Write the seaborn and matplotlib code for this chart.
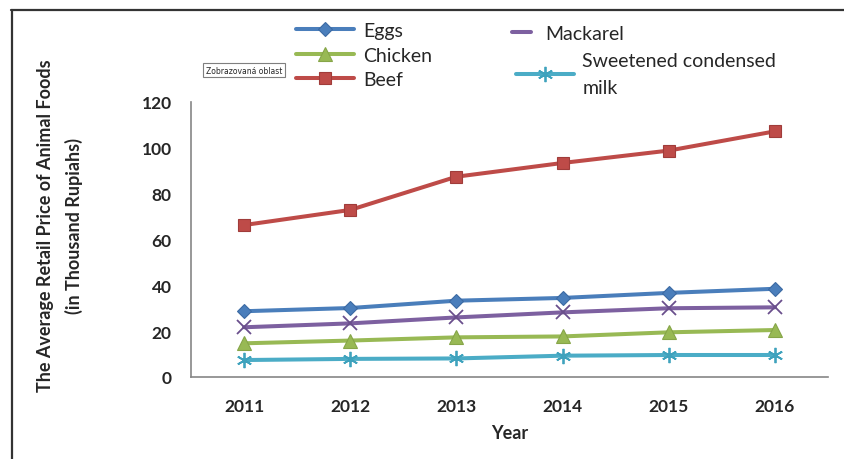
import matplotlib
matplotlib.use("Agg")
import matplotlib.pyplot as plt
from matplotlib.lines import Line2D
import seaborn as sns
import pandas as pd

# data (thousand rupiahs)
years = ["2011", "2012", "2013", "2014", "2015", "2016"]
eggs = [28.7, 30.1, 33.3, 34.5, 36.7, 38.5]
chicken = [14.7, 15.9, 17.3, 17.7, 19.5, 20.5]
beef = [66.3, 72.9, 87.4, 93.4, 98.8, 107.2]
mackarel = [21.7, 23.4, 26.0, 28.2, 30.0, 30.4]
milk = [7.4, 7.9, 8.1, 9.3, 9.6, 9.6]
yticks = [0, 20, 40, 60, 80, 100, 120]

series = {
    "Eggs": eggs,
    "Chicken": chicken,
    "Beef": beef,
    "Mackarel": mackarel,
    "Sweetened condensed milk": milk,
}

# colour, marker, size, edge colour, edge width
styles = {
    "Eggs": ("#4A7EBB", "D", 6.8, "#3C6AA3", 0.8),
    "Chicken": ("#98B954", "^", 9.5, "#86A548", 0.8),
    "Beef": ("#BE4B48", "s", 9.0, "#A03C3A", 0.8),
    "Mackarel": ("#7D60A0", "x", 10.5, "#6A4F8C", 1.3),
    "Sweetened condensed milk": ("#4BACC6", (6, 2, 0), 11.0, "#3EA2BD", 1.3),
}

df = pd.DataFrame({"year": years * len(series),
                   "food": [k for k in series for _ in years],
                   "price": [v for k in series for v in series[k]]})

sns.set_style("white")
plt.rcParams['font.family'] = ['Lato', 'DejaVu Sans']

W, H = 844, 460
fig = plt.figure(figsize=(W / 100, H / 100), dpi=100)
ax = fig.add_axes([191 / W, 1 - 378 / H, (828 - 191) / W, (378 - 103) / H])

for food in ["Beef", "Eggs", "Mackarel", "Chicken", "Sweetened condensed milk"]:
    c, m, ms, mec, mew = styles[food]
    sub = df[df["food"] == food]
    sns.lineplot(data=sub, x="year", y="price", ax=ax, color=c, linewidth=2.9,
                 marker=m, markersize=ms, markeredgecolor=mec,
                 markeredgewidth=mew, markerfacecolor=c, legend=False)

ax.set_xlim(-0.5, len(years) - 0.5)
ax.set_ylim(0, 120)
ax.set_yticks(yticks)
ax.set_yticklabels([str(v) for v in yticks], fontsize=12.5, fontweight="bold")

# tick marks between categories, labels at category centres
ax.set_xticks([i - 0.5 for i in range(len(years) + 1)])
ax.set_xticklabels([])
ax.set_xticks(range(len(years)), minor=True)
ax.set_xticklabels(years, minor=True, fontsize=12.5, fontweight="bold")
ax.tick_params(axis="x", which="major", length=5, width=1, color="#868686", direction="out")
ax.tick_params(axis="x", which="minor", length=0, pad=15)
ax.tick_params(axis="y", length=5, width=1, color="#868686", direction="out", pad=9)
ax.set_xlabel("")
ax.set_ylabel("")

sns.despine(ax=ax)
for s in ["left", "bottom"]:
    ax.spines[s].set_color("#868686")
    ax.spines[s].set_linewidth(1.2)

fig.text(510 / W, 1 - 434 / H, "Year", fontsize=13, fontweight="bold",
         ha="center", va="center")
fig.text(60 / W, 1 - 226 / H,
         "The Average Retail Price of Animal Foods\n(in Thousand Rupiahs)",
         rotation=90, fontsize=13, fontweight="bold", ha="center", va="center",
         multialignment="center", linespacing=1.7)


def handle(food, with_marker=True):
    c, m, ms, mec, mew = styles[food]
    return Line2D([], [], color=c, linewidth=2.9,
                  marker=m if with_marker else None, markersize=ms,
                  markeredgecolor=mec, markeredgewidth=mew, markerfacecolor=c)


leg_fs = 14
leg1 = fig.legend([handle("Eggs"), handle("Chicken"), handle("Beef")],
                  ["Eggs", "Chicken", "Beef"],
                  loc="center left", bbox_to_anchor=(296 / W, 1 - 56 / H),
                  frameon=False, fontsize=leg_fs, handlelength=3.0,
                  handletextpad=0.46, labelspacing=0.4, borderpad=0,
                  borderaxespad=0)
leg2 = fig.legend([handle("Mackarel", False)], ["Mackarel"],
                  loc="center left", bbox_to_anchor=(512 / W, 1 - 34 / H),
                  frameon=False, fontsize=leg_fs, handlelength=0.98,
                  handletextpad=0.72, borderpad=0, borderaxespad=0)
leg3 = fig.legend([handle("Sweetened condensed milk")],
                  ["Sweetened condensed\nmilk"],
                  loc="upper left", bbox_to_anchor=(516 / W, 1 - 53 / H),
                  frameon=False, fontsize=leg_fs, handlelength=3.0,
                  handletextpad=0.41, borderpad=0, borderaxespad=0)
for t in leg3.get_texts():
    t.set_linespacing(1.75)

# "Zobrazovaná oblast" tooltip box
fig.text(206 / W, 1 - 71 / H, "Zobrazovaná oblast", fontsize=5.5,
         ha="left", va="center", family=["Liberation Sans Narrow", "DejaVu Sans"],
         bbox=dict(boxstyle="square,pad=0.35", fc="white", ec="#7f7f7f", lw=0.8))

# outer frame (top and left edges visible)
fig.add_artist(Line2D([11 / W, 1], [1 - 11 / H, 1 - 11 / H], transform=fig.transFigure,
                      color="#333333", linewidth=1.6))
fig.add_artist(Line2D([12 / W, 12 / W], [0, 1 - 11 / H], transform=fig.transFigure,
                      color="#333333", linewidth=1.6))

fig.savefig("out.png", dpi=100)
